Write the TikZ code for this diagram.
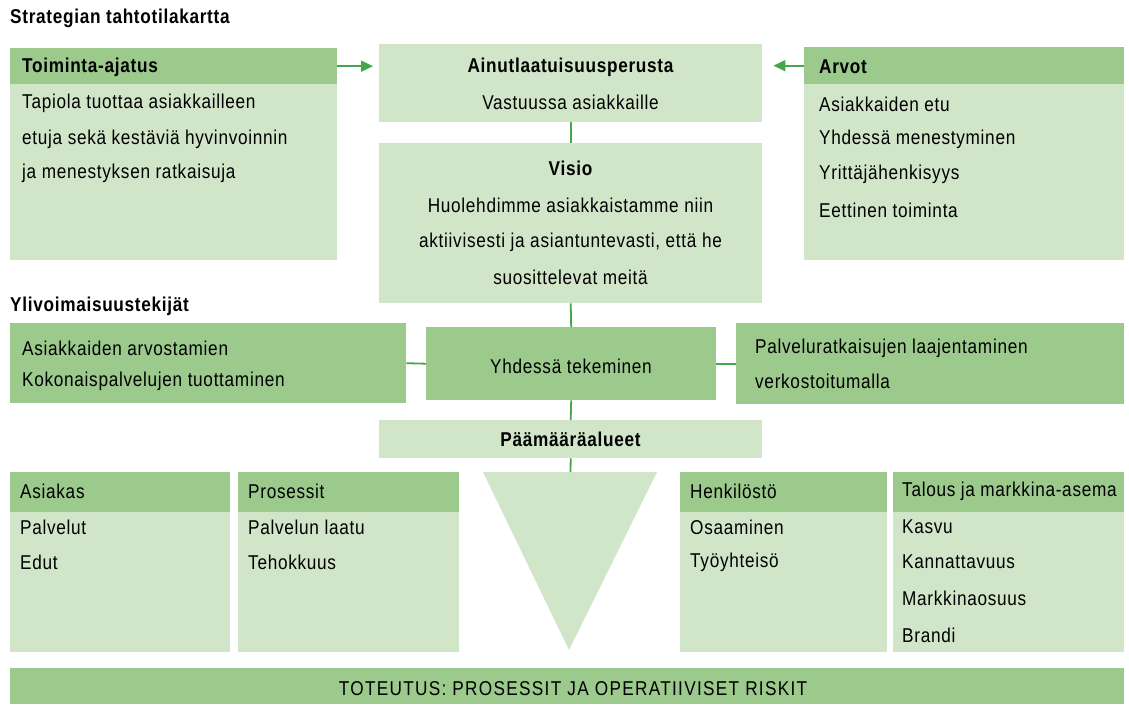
\documentclass[tikz,border=0pt]{standalone}
\usepackage{fontspec}
\setmainfont{Liberation Sans}[FakeStretch=0.86,LetterSpace=3.5]
\usetikzlibrary{arrows.meta}
\definecolor{dkg}{HTML}{9CC98C}
\definecolor{ltg}{HTML}{D1E5C9}
\definecolor{lng}{HTML}{45A64B}
\begin{document}
\begin{tikzpicture}[x=1pt,y=-1pt,
  lbox/.style={fill=ltg,draw=none,inner sep=0,anchor=north west},
  dbox/.style={fill=dkg,draw=none,inner sep=0,anchor=north west},
  txt/.style={anchor=west,inner sep=0,font=\fontsize{20}{22}\selectfont},
  ctxt/.style={anchor=center,inner sep=0,font=\fontsize{20}{22}\selectfont},
  btxt/.style={anchor=west,inner sep=0,font=\fontsize{20}{22}\selectfont\bfseries},
  bctxt/.style={anchor=center,inner sep=0,font=\fontsize{20}{22}\selectfont\bfseries},
  conn/.style={draw=lng,line width=1.8pt},
  arr/.style={conn,-{Triangle[length=12pt,width=11pt]}}]
\useasboundingbox (0,0) rectangle (1129,704);
% title
\node[btxt] (title) at (10,18) {Strategian tahtotilakartta};
% Toiminta-ajatus
\node[lbox,minimum width=327pt,minimum height=212pt] (toim) at (10,48) {};
\node[dbox,minimum width=327pt,minimum height=36pt] (toimh) at (10,48) {};
\node[btxt] (toimt) at (22,67) {Toiminta-ajatus};
\node[txt] (toim1) at (22,103) {Tapiola tuottaa asiakkailleen};
\node[txt] (toim2) at (22,139) {etuja sekä kestäviä hyvinvoinnin};
\node[txt] (toim3) at (22,173) {ja menestyksen ratkaisuja};
% Ainutlaatuisuusperusta
\node[lbox,minimum width=383pt,minimum height=78pt] (ain) at (379,44) {};
\node[bctxt] (aint) at (570.5,67) {Ainutlaatuisuusperusta};
\node[ctxt] (ain1) at (570.5,102) {Vastuussa asiakkaille};
% Visio
\node[lbox,minimum width=383pt,minimum height=160pt] (vis) at (379,143) {};
\node[bctxt] (vist) at (570.5,168) {Visio};
\node[ctxt] (vis1) at (570.5,205) {Huolehdimme asiakkaistamme niin};
\node[ctxt] (vis2) at (570.5,242) {aktiivisesti ja asiantuntevasti, että he};
\node[ctxt] (vis3) at (570.5,277) {suosittelevat meitä};
% Arvot
\node[lbox,minimum width=320pt,minimum height=213pt] (arv) at (804,47) {};
\node[dbox,minimum width=320pt,minimum height=37pt] (arvh) at (804,47) {};
\node[btxt] (arvt) at (819,67) {Arvot};
\node[txt] (arv1) at (819,104) {Asiakkaiden etu};
\node[txt] (arv2) at (819,139) {Yhdessä menestyminen};
\node[txt] (arv3) at (819,174) {Yrittäjähenkisyys};
\node[txt] (arv4) at (819,210) {Eettinen toiminta};
% Ylivoimaisuustekijät
\node[btxt] (ylit) at (10,306) {Ylivoimaisuustekijät};
\node[dbox,minimum width=396pt,minimum height=80pt] (yl) at (10,323) {};
\node[txt] (yl1) at (22,348) {Asiakkaiden arvostamien};
\node[txt] (yl2) at (22,381) {Kokonaispalvelujen tuottaminen};
\node[dbox,minimum width=290pt,minimum height=73pt] (yhd) at (426,327) {};
\node[ctxt] (yhdt) at (571,366) {Yhdessä tekeminen};
\node[dbox,minimum width=388pt,minimum height=81pt] (yr) at (736,323) {};
\node[txt] (yr1) at (755,348) {Palveluratkaisujen laajentaminen};
\node[txt] (yr2) at (755,381) {verkostoitumalla};
% Päämääräalueet
\node[lbox,minimum width=383pt,minimum height=38pt] (paa) at (379,420) {};
\node[bctxt] (paat) at (570.5,439) {Päämääräalueet};
% triangle
\coordinate (tl) at (483,472);
\coordinate (tr) at (657,472);
\coordinate (ttop) at (570.5,472);
\coordinate (tap) at (569,650);
\fill[ltg] (tl) -- (tr) -- (tap) -- cycle;
% Asiakas
\node[lbox,minimum width=220pt,minimum height=180pt] (asi) at (10,472) {};
\node[dbox,minimum width=220pt,minimum height=40pt] (asih) at (10,472) {};
\node[txt] (asit) at (20,491) {Asiakas};
\node[txt] (asi1) at (20,527) {Palvelut};
\node[txt] (asi2) at (20,562) {Edut};
% Prosessit
\node[lbox,minimum width=221pt,minimum height=180pt] (pro) at (238,472) {};
\node[dbox,minimum width=221pt,minimum height=40pt] (proh) at (238,472) {};
\node[txt] (prot) at (248,491) {Prosessit};
\node[txt] (pro1) at (248,527) {Palvelun laatu};
\node[txt] (pro2) at (248,562) {Tehokkuus};
% Henkilöstö
\node[lbox,minimum width=207pt,minimum height=180pt] (hen) at (680,472) {};
\node[dbox,minimum width=207pt,minimum height=40pt] (henh) at (680,472) {};
\node[txt] (hent) at (690,491) {Henkilöstö};
\node[txt] (hen1) at (690,527) {Osaaminen};
\node[txt] (hen2) at (690,562) {Työyhteisö};
% Talous
\node[lbox,minimum width=231pt,minimum height=180pt] (tal) at (893,472) {};
\node[dbox,minimum width=231pt,minimum height=40pt] (talh) at (893,472) {};
\node[txt] (talt) at (902,491) {Talous ja markkina-asema};
\node[txt] (tal1) at (902,527) {Kasvu};
\node[txt] (tal2) at (902,562) {Kannattavuus};
\node[txt] (tal3) at (902,598) {Markkinaosuus};
\node[txt] (tal4) at (902,635) {Brandi};
% Toteutus
\node[dbox,minimum width=1114pt,minimum height=36pt] (tot) at (10,668) {};
\node[ctxt,font=\fontsize{20}{22}\selectfont\addfontfeatures{LetterSpace=6.5}] (tott) at (573,689) {TOTEUTUS: PROSESSIT JA OPERATIIVISET RISKIT};
% connectors
\draw[arr,shorten >=6pt] (toimh.east) -- (toimh.east -| ain.west);
\draw[arr,shorten >=11pt] (arvh.west) -- (arvh.west -| ain.east);
\draw[conn] (ain.south) -- (vis.north);
\draw[conn] (vis.south) -- (yhd.north);
\draw[conn] (yhd.south) -- (paa.north);
\draw[conn] (paa.south) -- (ttop);
\draw[conn] (yl.east) -- (yhd.west);
\draw[conn] (yhd.east) -- (yr.west);
\end{tikzpicture}
\end{document}
